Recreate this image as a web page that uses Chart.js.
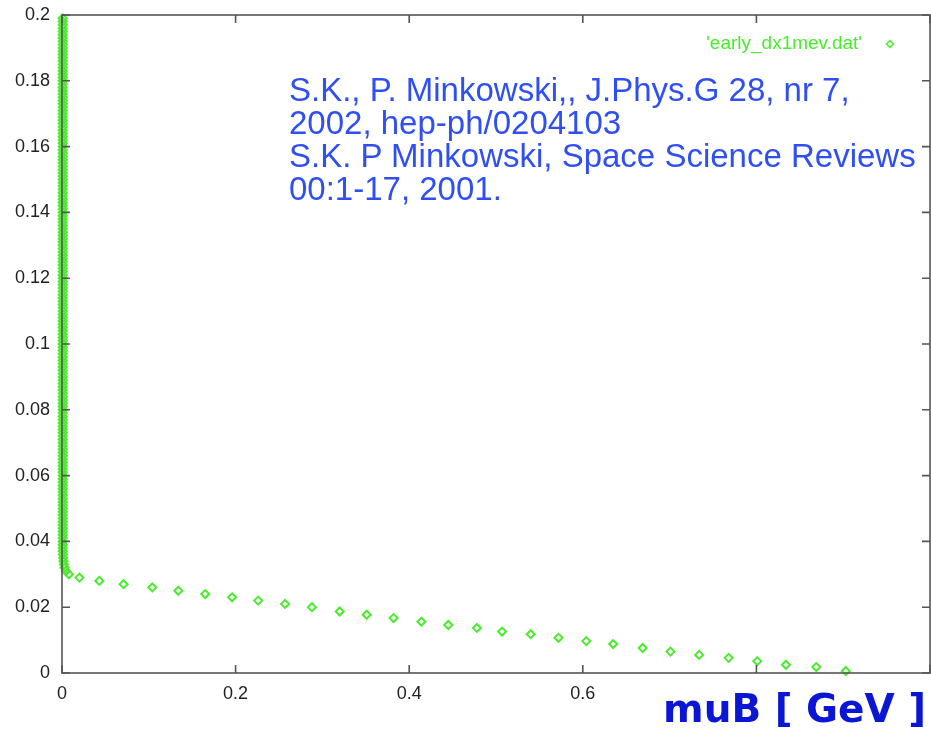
<!DOCTYPE html>
<html>
<head>
<meta charset="utf-8">
<title>early_dx1mev</title>
<script src="https://cdn.jsdelivr.net/npm/chart.js@4.4.1/dist/chart.umd.min.js"></script>
<style>
  html, body { margin: 0; padding: 0; background: #fff; }
  #wrap { position: relative; width: 931px; height: 729px; overflow: hidden; }
  #chart { position: absolute; left: 0; top: 0; }
  .refs {
    position: absolute; left: 289px; top: 73px;
    font: 33px/33px "Liberation Sans", Arial, sans-serif;
    color: #2f4ff2; white-space: nowrap;
  }
  .axis-title {
    position: absolute; left: 663px; top: 689px;
    font: bold 39px/39px "DejaVu Sans", sans-serif;
    color: #0b16d4; white-space: nowrap;
  }
</style>
</head>
<body>
<div id="wrap">
  <canvas id="chart" width="931" height="729"></canvas>
  <div class="refs">S.K., P. Minkowski,, J.Phys.G 28, nr 7,<br>2002, hep-ph/0204103<br>S.K. P Minkowski, Space Science Reviews<br>00:1-17, 2001.</div>
  <div class="axis-title">muB [ GeV ]</div>
</div>
<script>
// series label (file name of the data set)
const seriesLabel = "'early_dx1mev.dat'";

// steep part: points sitting on muB ~ 0
const spikeX = 0.0008;
const spikeY = [
  0.199, 0.198, 0.197, 0.196, 0.195, 0.194, 0.193, 0.192, 0.191, 0.190,
  0.189, 0.188, 0.187, 0.186, 0.185, 0.184, 0.183, 0.182, 0.181, 0.180,
  0.179, 0.178, 0.177, 0.176, 0.175, 0.174, 0.173, 0.172, 0.171, 0.170,
  0.169, 0.168, 0.167, 0.166, 0.165, 0.164, 0.163, 0.162, 0.161, 0.160,
  0.159, 0.158, 0.157, 0.156, 0.155, 0.154, 0.153, 0.152, 0.151, 0.150,
  0.149, 0.148, 0.147, 0.146, 0.145, 0.144, 0.143, 0.142, 0.141, 0.140,
  0.139, 0.138, 0.137, 0.136, 0.135, 0.134, 0.133, 0.132, 0.131, 0.130,
  0.129, 0.128, 0.127, 0.126, 0.125, 0.124, 0.123, 0.122, 0.121, 0.120,
  0.119, 0.118, 0.117, 0.116, 0.115, 0.114, 0.113, 0.112, 0.111, 0.110,
  0.109, 0.108, 0.107, 0.106, 0.105, 0.104, 0.103, 0.102, 0.101, 0.100,
  0.099, 0.098, 0.097, 0.096, 0.095, 0.094, 0.093, 0.092, 0.091, 0.090,
  0.089, 0.088, 0.087, 0.086, 0.085, 0.084, 0.083, 0.082, 0.081, 0.080,
  0.079, 0.078, 0.077, 0.076, 0.075, 0.074, 0.073, 0.072, 0.071, 0.070,
  0.069, 0.068, 0.067, 0.066, 0.065, 0.064, 0.063, 0.062, 0.061, 0.060,
  0.059, 0.058, 0.057, 0.056, 0.055, 0.054, 0.053, 0.052, 0.051, 0.050,
  0.049, 0.048, 0.047, 0.046, 0.045, 0.044, 0.043, 0.042, 0.041, 0.040,
  0.039, 0.038, 0.037
];

// bend where the curve leaves the axis
const bendX = [0.0010, 0.0013, 0.0017, 0.0023, 0.0030, 0.0045];
const bendY = [0.036, 0.035, 0.034, 0.033, 0.032, 0.031];

// slow tail out to ~0.9 GeV
const tailX = [
  0.008, 0.020, 0.043, 0.071, 0.104, 0.134, 0.165, 0.196, 0.226, 0.257,
  0.288, 0.320, 0.351, 0.382, 0.414, 0.445, 0.478, 0.507, 0.540, 0.572,
  0.604, 0.635, 0.669, 0.701, 0.734, 0.768, 0.801, 0.834, 0.869, 0.903
];
const tailY = [
  0.0300, 0.0290, 0.0280, 0.0270, 0.0260, 0.0250, 0.0240, 0.0230, 0.0220, 0.0210,
  0.0200, 0.0187, 0.0177, 0.0167, 0.0156, 0.0146, 0.0137, 0.0126, 0.0118, 0.0107,
  0.0097, 0.0088, 0.0076, 0.0065, 0.0055, 0.0046, 0.0036, 0.0025, 0.0018, 0.0006
];

const xMin = 0, xMax = 1, xStep = 0.2;
const yMin = 0, yMax = 0.2, yStep = 0.02;

const green = "rgb(75,235,45)";
const axisColor = "#555";

function buildPoints() {
  const pts = spikeY.map((y) => ({ x: spikeX, y }));
  bendX.forEach((x, i) => pts.push({ x, y: bendY[i] }));
  tailX.forEach((x, i) => pts.push({ x, y: tailY[i] }));
  return pts;
}

function fmt(v) {
  return String(Number(v.toFixed(2)));
}

// gnuplot style box with ticks pointing inward, drawn over the points
const framePlugin = {
  id: "frame",
  afterDatasetsDraw(chart) {
    const { ctx, chartArea: a, scales } = chart;
    const len = 8;
    ctx.save();
    ctx.strokeStyle = axisColor;
    ctx.lineWidth = 1.6;
    ctx.strokeRect(a.left, a.top, a.right - a.left, a.bottom - a.top);
    ctx.beginPath();
    scales.x.ticks.forEach((t) => {
      const px = scales.x.getPixelForValue(t.value);
      ctx.moveTo(px, a.bottom); ctx.lineTo(px, a.bottom - len);
      ctx.moveTo(px, a.top); ctx.lineTo(px, a.top + len);
    });
    scales.y.ticks.forEach((t) => {
      const py = scales.y.getPixelForValue(t.value);
      ctx.moveTo(a.left, py); ctx.lineTo(a.left + len, py);
      ctx.moveTo(a.right, py); ctx.lineTo(a.right - len, py);
    });
    ctx.stroke();
    ctx.restore();
  }
};

// key in the top right corner, like gnuplot
const keyPlugin = {
  id: "key",
  afterDraw(chart) {
    const { ctx, chartArea: a } = chart;
    const y = a.top + 29;
    ctx.save();
    ctx.font = "19px 'Liberation Sans', Arial, sans-serif";
    ctx.fillStyle = green;
    ctx.textAlign = "right";
    ctx.textBaseline = "middle";
    ctx.fillText(seriesLabel, a.right - 68, y);
    ctx.strokeStyle = green;
    ctx.lineWidth = 1.5;
    ctx.beginPath();
    const cx = a.right - 40, r = 3.5;
    ctx.moveTo(cx, y - r); ctx.lineTo(cx + r, y); ctx.lineTo(cx, y + r); ctx.lineTo(cx - r, y);
    ctx.closePath();
    ctx.stroke();
    ctx.restore();
  }
};

function renderChart() {
  const ctx = document.getElementById("chart").getContext("2d");
  const tickFont = { family: "'Liberation Sans', Arial, sans-serif", size: 18 };

  new Chart(ctx, {
    type: "scatter",
    data: {
      datasets: [
        {
          label: seriesLabel,
          data: buildPoints(),
          pointStyle: "rectRot",
          pointRadius: 4,
          pointBorderWidth: 2,
          borderColor: green,
          backgroundColor: "rgba(0,0,0,0)",
          clip: false
        }
      ]
    },
    options: {
      responsive: false,
      animation: false,
      devicePixelRatio: 1,
      layout: { autoPadding: false, padding: { top: 15, right: 1, left: 0, bottom: 0 } },
      plugins: {
        legend: { display: false },
        tooltip: { enabled: false }
      },
      scales: {
        x: {
          type: "linear",
          min: xMin,
          max: xMax,
          grid: { display: false, drawTicks: false },
          border: { display: false },
          afterFit: (s) => {
            s.height = 56;
            s.paddingLeft = 0;
            s.paddingRight = 0;
          },
          ticks: {
            stepSize: xStep,
            padding: 10,
            color: "#222",
            font: tickFont,
            maxRotation: 0,
            // the 0.8 and 1 labels sit under the axis title
            callback: (v) => (v > 0.7 ? "" : fmt(v))
          }
        },
        y: {
          type: "linear",
          min: yMin,
          max: yMax,
          grid: { display: false, drawTicks: false },
          border: { display: false },
          afterFit: (s) => {
            s.width = 62;
            s.paddingTop = 0;
            s.paddingBottom = 0;
          },
          ticks: {
            stepSize: yStep,
            padding: 12,
            color: "#222",
            font: tickFont,
            callback: (v) => fmt(v)
          }
        }
      }
    },
    plugins: [framePlugin, keyPlugin]
  });
}

document.addEventListener("DOMContentLoaded", renderChart);
</script>
</body>
</html>
